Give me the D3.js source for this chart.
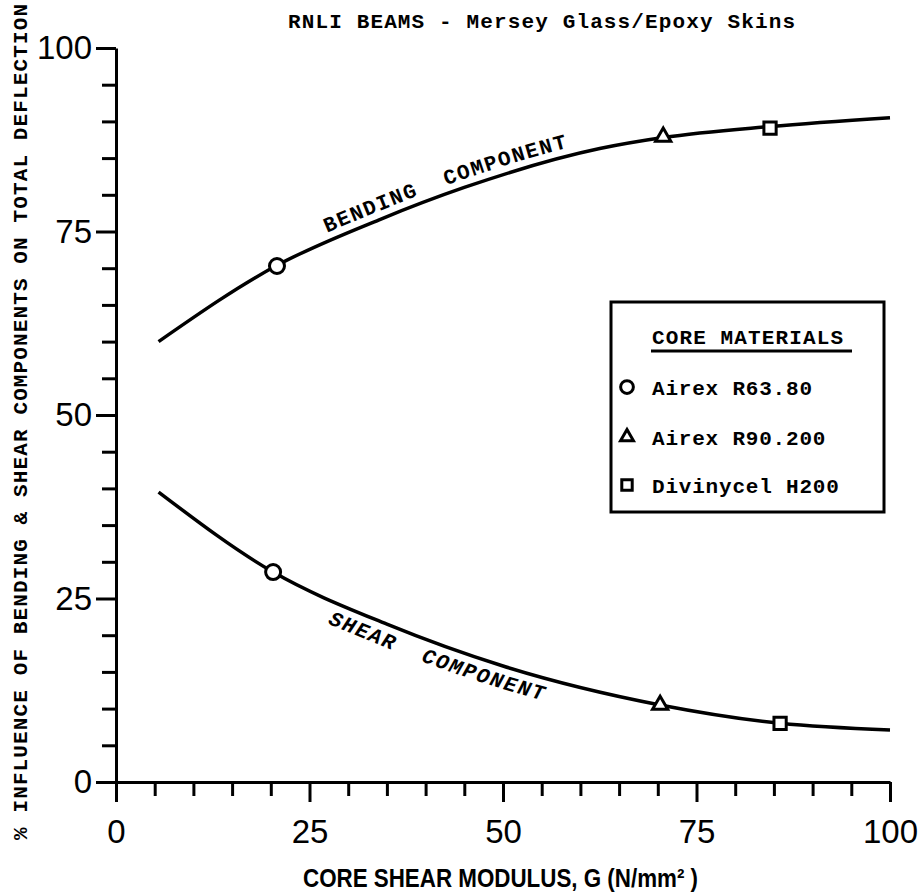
<!DOCTYPE html>
<html>
<head>
<meta charset="utf-8">
<script src="https://cdn.jsdelivr.net/npm/d3@7"></script>
<style>
  html, body { margin: 0; padding: 0; background: #fff; }
  svg { display: block; }
  .mono { font-family: "Liberation Mono", "DejaVu Sans Mono", monospace; font-weight: bold; }
  .tick text { font-family: "Liberation Sans", Arial, sans-serif; font-size: 33px; fill: #000; }
</style>
</head>
<body>
<svg id="chart" width="920" height="895"></svg>
<script>
// Core shear modulus G (N/mm²) against the share of total deflection (%)
const bendingG   = [5.5, 21, 34, 45, 62.5, 70.7, 84.5, 100];
const bendingPct = [60.0, 70.5, 76.6, 81.0, 86.3, 87.8, 89.3, 90.5];
const shearG     = [5.5, 20.3, 35, 50, 70.3, 85.8, 100];
const shearPct   = [39.5, 28.6, 21.5, 15.8, 10.5, 8.0, 7.1];

// Measured beams, one per core material
const materials   = ["Airex R63.80", "Airex R90.200", "Divinycel H200"];
const markerShape = ["circle", "triangle", "square"];
const bendMarkG   = [20.8, 70.7, 84.5];
const bendMarkPct = [70.3, 87.9, 89.1];
const shearMarkG  = [20.3, 70.3, 85.8];
const shearMarkPct= [28.6, 10.5, 8.0];

const xMajor = [0, 25, 50, 75, 100];
const yMajor = [0, 25, 50, 75, 100];
const minorStep = 5;

const titleText = "RNLI BEAMS - Mersey Glass/Epoxy Skins";
const xTitle = "CORE SHEAR MODULUS, G (N/mm² )";
const yTitle = "% INFLUENCE OF BENDING & SHEAR COMPONENTS ON TOTAL DEFLECTION";
const legendTitle = "CORE MATERIALS";
const bendLabel = "BENDING\u00a0\u00a0COMPONENT";
const shearLabel = "SHEAR\u00a0\u00a0COMPONENT";

const svg = d3.select("#chart");
const x = d3.scaleLinear().domain([0, 100]).range([116, 890]);
const y = d3.scaleLinear().domain([0, 100]).range([782, 48]);

const minor = d3.range(0, 101, minorStep).filter(v => v % 25 !== 0);

function styleAxis(g) {
  g.selectAll("path.domain").attr("stroke", "#000").attr("stroke-width", 3);
  g.selectAll(".tick line").attr("stroke", "#000").attr("stroke-width", 3);
}

// x axis
const gxMinor = svg.append("g").attr("transform", `translate(0,${y(0)})`)
  .call(d3.axisBottom(x).tickValues(minor).tickSize(14).tickSizeOuter(0).tickFormat(""));
gxMinor.select("path.domain").remove();
styleAxis(gxMinor);
const gx = svg.append("g").attr("transform", `translate(0,${y(0)})`)
  .call(d3.axisBottom(x).tickValues(xMajor).tickSize(20).tickSizeOuter(0).tickPadding(18).tickFormat(d3.format("d")));
styleAxis(gx);

// y axis
const gyMinor = svg.append("g").attr("transform", `translate(${x(0)},0)`)
  .call(d3.axisLeft(y).tickValues(minor).tickSize(14).tickSizeOuter(0).tickFormat(""));
gyMinor.select("path.domain").remove();
styleAxis(gyMinor);
const gy = svg.append("g").attr("transform", `translate(${x(0)},0)`)
  .call(d3.axisLeft(y).tickValues(yMajor).tickSize(20).tickSizeOuter(0).tickPadding(4).tickFormat(d3.format("d")));
styleAxis(gy);

// titles
svg.append("text").attr("class", "mono")
  .attr("x", 288).attr("y", 28)
  .attr("font-size", 21)
  .attr("textLength", 507).attr("lengthAdjust", "spacing")
  .text(titleText);

svg.append("text")
  .attr("x", 303).attr("y", 887)
  .attr("font-family", "'Liberation Sans Narrow', 'Liberation Sans', Arial, sans-serif")
  .attr("font-weight", "bold").attr("font-size", 25)
  .attr("textLength", 395).attr("lengthAdjust", "spacingAndGlyphs")
  .text(xTitle);

svg.append("text").attr("class", "mono")
  .attr("transform", "translate(27,840) rotate(-90)")
  .attr("x", 0).attr("y", 0)
  .attr("font-size", 21)
  .attr("textLength", 836).attr("lengthAdjust", "spacing")
  .text(yTitle);

// curves
const line = d3.line().x(d => x(d[0])).y(d => y(d[1])).curve(d3.curveMonotoneX);
const bendData = bendingG.map((g, i) => [g, bendingPct[i]]);
const shearData = shearG.map((g, i) => [g, shearPct[i]]);

const bendPath = svg.append("path").attr("id", "bendCurve")
  .attr("d", line(bendData)).attr("fill", "none").attr("stroke", "#000").attr("stroke-width", 3.5);
const shearPath = svg.append("path").attr("id", "shearCurve")
  .attr("d", line(shearData)).attr("fill", "none").attr("stroke", "#000").attr("stroke-width", 3.5);

function lengthAtX(node, targetX) {
  let lo = 0, hi = node.getTotalLength();
  for (let i = 0; i < 40; i++) {
    const mid = (lo + hi) / 2;
    if (node.getPointAtLength(mid).x < targetX) lo = mid; else hi = mid;
  }
  return lo;
}

// labels running along the curves
svg.append("text").attr("class", "mono").attr("font-size", 21)
  .attr("letter-spacing", 1.6).attr("dy", -8)
  .append("textPath").attr("href", "#bendCurve")
  .attr("startOffset", lengthAtX(bendPath.node(), 330))
  .text(bendLabel);

svg.append("text").attr("class", "mono").attr("font-size", 21)
  .attr("font-style", "italic")
  .attr("letter-spacing", 1.6).attr("dy", 22)
  .append("textPath").attr("href", "#shearCurve")
  .attr("startOffset", lengthAtX(shearPath.node(), 336))
  .text(shearLabel);

// markers
function drawMarker(g, shape, cx, cy, scale) {
  const s = scale || 1;
  if (shape === "circle") {
    g.append("circle").attr("cx", cx).attr("cy", cy).attr("r", 7.5 * s)
      .attr("fill", "#fff").attr("stroke", "#000").attr("stroke-width", 3);
  } else if (shape === "triangle") {
    g.append("path").attr("transform", `translate(${cx},${cy})`)
      .attr("d", d3.symbol(d3.symbolTriangle, 100 * s * s)())
      .attr("fill", "#fff").attr("stroke", "#000").attr("stroke-width", 3);
  } else {
    g.append("path").attr("transform", `translate(${cx},${cy})`)
      .attr("d", d3.symbol(d3.symbolSquare, 150 * s * s)())
      .attr("fill", "#fff").attr("stroke", "#000").attr("stroke-width", 3);
  }
}
const marks = svg.append("g");
markerShape.forEach((shape, i) => {
  drawMarker(marks, shape, x(bendMarkG[i]), y(bendMarkPct[i]));
  drawMarker(marks, shape, x(shearMarkG[i]), y(shearMarkPct[i]));
});

// legend
const lg = svg.append("g");
lg.append("rect").attr("x", 611).attr("y", 302).attr("width", 273).attr("height", 210)
  .attr("fill", "#fff").attr("stroke", "#000").attr("stroke-width", 3);
lg.append("text").attr("class", "mono").attr("x", 652).attr("y", 344)
  .attr("font-size", 21).attr("textLength", 191).attr("lengthAdjust", "spacing")
  .text(legendTitle);
lg.append("line").attr("x1", 651).attr("x2", 852).attr("y1", 351).attr("y2", 351)
  .attr("stroke", "#000").attr("stroke-width", 3);
const rowY = [395, 445, 493];
materials.forEach((m, i) => {
  drawMarker(lg, markerShape[i], 627, rowY[i] - 8, 0.85);
  lg.append("text").attr("class", "mono").attr("x", 652).attr("y", rowY[i])
    .attr("font-size", 21).attr("letter-spacing", 0.8).text(m);
});
</script>
</body>
</html>
